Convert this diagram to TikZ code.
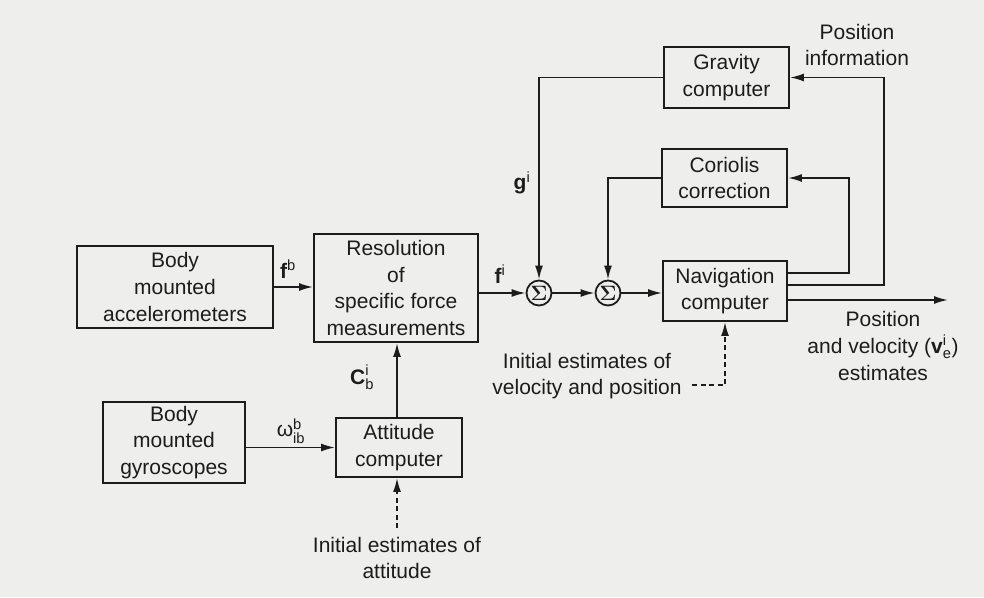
\documentclass[tikz,border=0pt]{standalone}
\usepackage{amsmath}
\usepackage{fontspec}
\setmainfont{Liberation Sans}
\usetikzlibrary{arrows.meta,calc}
\definecolor{ink}{RGB}{28,28,28}
\definecolor{paper}{RGB}{238,238,236}
\begin{document}
\begin{tikzpicture}[x=1pt,y=-1pt,
  font=\fontsize{21}{26.7}\selectfont,
  box/.style={draw=ink, line width=1.9pt, rectangle, align=center, inner sep=0pt, text=ink},
  arr/.style={-{Latex[length=14pt,width=8pt]}, draw=ink, line width=1.8pt},
  dsh/.style={dash pattern=on 5pt off 3.5pt},
  sumnode/.style={draw=ink, circle, minimum size=25pt, inner sep=0pt, line width=1.8pt, text=ink, font=\fontsize{20}{20}\selectfont},
  lbl/.style={inner sep=0pt, text=ink, align=center}]
\fill[paper] (0,0) rectangle (984,597);
\useasboundingbox (0,0) rectangle (984,597);

% boxes
\node[box, minimum width=196pt, minimum height=82pt] (acc) at (175,287) {Body\\mounted\\accelerometers};
\node[box, minimum width=164pt, minimum height=108pt] (res) at (396,288) {Resolution\\of\\specific force\\measurements};
\node[box, minimum width=142pt, minimum height=81pt] (gyro) at (174,442.5) {Body\\mounted\\gyroscopes};
\node[box, minimum width=126pt, minimum height=59pt] (att) at (399,447.5) {Attitude\\computer};
\node[box, minimum width=125pt, minimum height=61pt] (grav) at (726.5,77.5) {Gravity\\computer};
\node[box, minimum width=125pt, minimum height=58pt] (cor) at (724.5,178) {Coriolis\\correction};
\node[box, minimum width=124pt, minimum height=60pt] (nav) at (725,291) {Navigation\\computer};
\node[sumnode] (s1) at (539,293) {$\boldsymbol{\Sigma}$};
\node[sumnode] (s2) at (608,293) {$\boldsymbol{\Sigma}$};

% text labels
\node[lbl] (lfb) at (288,269) {\textbf{f}\textsuperscript{b}};
\node[lbl] (lfi) at (500,274) {\textbf{f}\textsuperscript{i}};
\node[lbl] (lgi) at (522,183) {$\text{\textbf{g}}^{\text{i}}$};
\node[lbl] (lcb) at (362,377) {$\text{\textbf{C}}^{\text{i}}_{\text{b}}$};
\node[lbl] (lom) at (291,431) {$\text{ω}^{\text{b}}_{\text{ib}}$};
\node[lbl] (tatt) at (397,558) {Initial estimates of\\attitude};
\node[lbl] (tvel) at (587,376) {Initial estimates of\\velocity and position};
\node[lbl] (tpos) at (857,45) {Position\\information};
\node[lbl] (tout) at (883,346) {Position\\and velocity ($\text{\textbf{v}}^{\text{i}}_{\text{e}}$)\\estimates};

% coordinates
\coordinate (ia) at (397,528);
\coordinate (iv) at (692,385);
\coordinate (out) at (948,300);

% connectors
\draw[arr] (acc.east) -- (acc.east -| res.west);
\draw[arr] (res.east |- s1.west) -- (s1.west);
\draw[arr] (s1.east) -- (s2.west);
\draw[arr] (s2.east) -- (s2.east -| nav.west);
\draw[arr] (gyro.east |- att.west) -- (att.west);
\draw[arr] (att.north -| 397,0) -- (397,0 |- res.south);
\draw[arr, dsh] (ia) -- (ia |- att.south);
\draw[arr] (grav.west) -| (s1.north);
\draw[arr] (cor.west) -| (s2.north);
\draw[arr] ($(nav.east)+(0,-18)$) -- ++(61,0) |- (cor.east);
\draw[arr] ($(nav.east)+(0,-6)$) -- ++(96,0) |- (grav.east);
\draw[arr] ($(nav.east)+(0,9)$) -- (out);
\draw[arr, dsh] (iv) -| (nav.south);
\end{tikzpicture}
\end{document}
